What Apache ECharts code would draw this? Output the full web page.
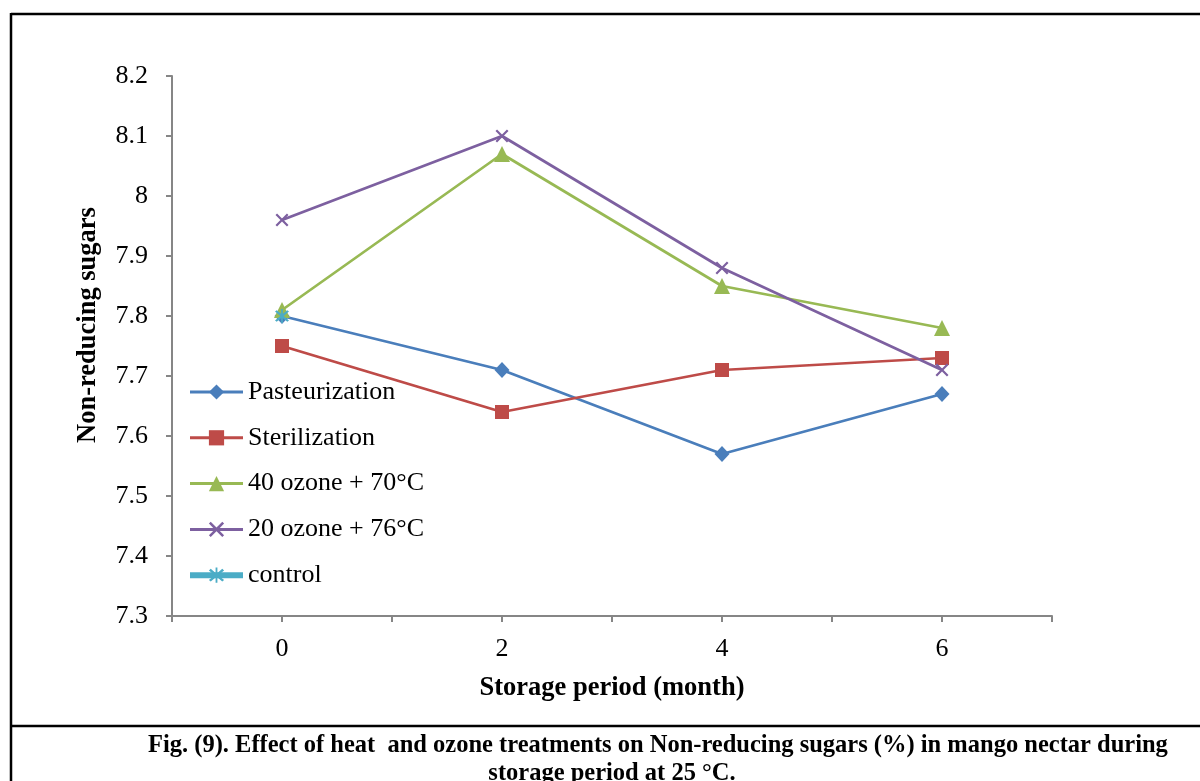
<!DOCTYPE html>
<html>
<head>
<meta charset="utf-8">
<script src="https://cdn.jsdelivr.net/npm/echarts@6/dist/echarts.min.js"></script>
<style>
html,body{margin:0;padding:0;background:#fff;}
#chart{width:1200px;height:781px;}
</style>
</head>
<body>
<div id="chart"></div>
<script>
// ---- data ----
var months = [0, 2, 4, 6];
var seriesNames = ['Pasteurization', 'Sterilization', '40 ozone + 70°C', '20 ozone + 76°C', 'control'];
var pasteurization = [7.80, 7.71, 7.57, 7.67];
var sterilization = [7.75, 7.64, 7.71, 7.73];
var ozone40 = [7.81, 8.07, 7.85, 7.78];
var ozone20 = [7.96, 8.10, 7.88, 7.71];
var control = [7.80, null, null, null];
var yTicks = [7.3, 7.4, 7.5, 7.6, 7.7, 7.8, 7.9, 8, 8.1, 8.2];

var FONT = '"Liberation Serif", "Times New Roman", serif';
var xPath = 'path://M0,1.2L1.2,0L5,3.8L8.8,0L10,1.2L6.2,5L10,8.8L8.8,10L5,6.2L1.2,10L0,8.8L3.8,5Z';
var starPath = 'path://M0,1.2L1.2,0L5,3.8L8.8,0L10,1.2L6.2,5L10,8.8L8.8,10L5,6.2L1.2,10L0,8.8L3.8,5Z M4.4,-1L5.6,-1L5.6,11L4.4,11Z';

function pairs(arr){
  var out = [];
  for (var i = 0; i < months.length; i++) out.push([months[i], arr[i]]);
  return out;
}

function mk(name, arr, color, symbol, size, lw){
  return {
    name: name, type: 'line', data: pairs(arr),
    symbol: symbol, symbolSize: size,
    showAllSymbol: true,
    connectNulls: false,
    lineStyle: {color: color, width: lw || 2.75},
    itemStyle: {color: color},
    emphasis: {disabled: true},
    animation: false
  };
}

var chart = echarts.init(document.getElementById('chart'));
chart.setOption({
  backgroundColor: '#fff',
  animation: false,
  grid: {left: 172, right: 148, top: 76, bottom: 165, containLabel: false},
  xAxis: {
    type: 'value', min: -1, max: 7, interval: 1,
    axisLine: {show: true, onZero: false, lineStyle: {color: '#868686', width: 2}},
    axisTick: {show: true, length: 6, lineStyle: {color: '#868686', width: 2}},
    splitLine: {show: false},
    axisLabel: {
      fontFamily: FONT, fontSize: 26, color: '#000', margin: 20,
      formatter: function(v){ return months.indexOf(v) >= 0 ? String(v) : ''; }
    }
  },
  yAxis: {
    type: 'value', min: yTicks[0], max: yTicks[yTicks.length-1], interval: 0.1,
    axisLine: {show: true, onZero: false, lineStyle: {color: '#868686', width: 2}},
    axisTick: {show: true, length: 6, lineStyle: {color: '#868686', width: 2}},
    splitLine: {show: false},
    axisLabel: {fontFamily: FONT, fontSize: 26, color: '#000', margin: 24,
      formatter: function(v){ return String(Math.round(v*10)/10); }}
  },
  legend: {
    orient: 'vertical', left: 182, top: 374,
    itemWidth: 53, itemHeight: 19, itemGap: 19.8,
    textStyle: {fontFamily: FONT, fontSize: 26, color: '#000'},
    data: [
      {name: seriesNames[0], lineStyle: {width: 3}},
      {name: seriesNames[1], lineStyle: {width: 3}},
      {name: seriesNames[2], lineStyle: {width: 3}},
      {name: seriesNames[3], lineStyle: {width: 3}},
      {name: seriesNames[4], lineStyle: {width: 6}}
    ]
  },
  series: [
    mk(seriesNames[0], pasteurization, '#4A7EBB', 'diamond', [15, 16]),
    mk(seriesNames[1], sterilization, '#BE4B48', 'rect', 14),
    mk(seriesNames[2], ozone40, '#98B954', 'triangle', 16),
    mk(seriesNames[3], ozone20, '#7D60A0', xPath, 13),
    mk(seriesNames[4], control, '#4BACC6', starPath, 14, 5)
  ],
  graphic: [
    {type: 'line', shape: {x1: 11, y1: 14, x2: 1200, y2: 14}, style: {stroke: '#000', lineWidth: 2.5}},
    {type: 'line', shape: {x1: 11, y1: 13, x2: 11, y2: 781}, style: {stroke: '#000', lineWidth: 2.5}},
    {type: 'line', shape: {x1: 11, y1: 726, x2: 1200, y2: 726}, style: {stroke: '#000', lineWidth: 2.5}},
    {type: 'text', x: 88, y: 325, rotation: Math.PI/2,
      style: {text: 'Non-reducing sugars', font: 'bold 26.5px ' + FONT, fill: '#000', textAlign: 'center', textVerticalAlign: 'middle'}},
    {type: 'text', x: 612, y: 688,
      style: {text: 'Storage period (month)', font: 'bold 26.5px ' + FONT, fill: '#000', textAlign: 'center', textVerticalAlign: 'middle'}},
    {type: 'text', x: 148, y: 746,
      style: {text: 'Fig. (9). Effect of heat  and ozone treatments on Non-reducing sugars (%) in mango nectar during', font: 'bold 24.5px ' + FONT, fill: '#000', textAlign: 'left', textVerticalAlign: 'middle'}},
    {type: 'text', x: 612, y: 774,
      style: {text: 'storage period at 25 °C.', font: 'bold 24.5px ' + FONT, fill: '#000', textAlign: 'center', textVerticalAlign: 'middle'}}
  ]
});
</script>
</body>
</html>
